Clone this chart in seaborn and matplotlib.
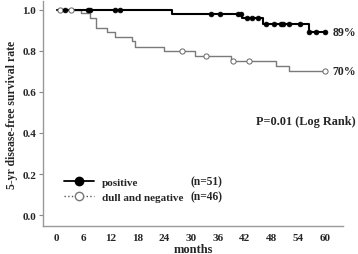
import numpy as np
import pandas as pd
import matplotlib
matplotlib.use("Agg")
import matplotlib.pyplot as plt
import seaborn as sns
from matplotlib.lines import Line2D

# ---- data ----
pos_times = [0, 25.8, 41.5, 46.2, 56.3, 60]
pos_surv = [1.0, 0.98, 0.959, 0.93, 0.894, 0.894]
pos_cens = [1.8, 7.0, 7.4, 13.0, 14.2, 34.5, 36.5, 40.5, 41.2, 42.6, 43.7, 45.0,
            46.7, 48.6, 50.1, 50.6, 52.0, 54.4, 56.5, 58.0, 60.0]

neg_times = [0, 5.4, 7.4, 8.7, 11.3, 13.0, 16.8, 17.5, 23.9, 30.8, 39.0, 49.0, 52.0, 60]
neg_surv = [1.0, 0.985, 0.96, 0.91, 0.89, 0.867, 0.847, 0.82, 0.798, 0.774, 0.751, 0.726, 0.70, 0.70]
neg_cens = [0.7, 3.1, 27.9, 33.3, 39.3, 43.0, 60.0]

group_labels = ["positive", "dull and negative"]
group_n = ["(n=51)", "(n=46)"]
end_labels = ["89%", "70%"]
p_text = "P=0.01 (Log Rank)"
x_ticks = [0, 6, 12, 18, 24, 30, 36, 42, 48, 54, 60]
y_ticks = [0.0, 0.2, 0.4, 0.6, 0.8, 1.0]


def step_value(times, surv, t):
    idx = np.searchsorted(times, t, side="right") - 1
    return surv[idx]


sns.set_style("white")
plt.rcParams["font.family"] = ["Liberation Serif", "DejaVu Serif"]
plt.rcParams["font.weight"] = "bold"

fig = plt.figure(figsize=(3.58, 2.55), dpi=100)
ax = fig.add_axes([0.12, 0.11, 0.838, 0.882])

pos_df = pd.DataFrame({"t": pos_times, "s": pos_surv})
neg_df = pd.DataFrame({"t": neg_times, "s": neg_surv})
sns.lineplot(data=neg_df, x="t", y="s", drawstyle="steps-post", color="#7a7a7a",
             lw=1.0, ax=ax, estimator=None, sort=False)
sns.lineplot(data=pos_df, x="t", y="s", drawstyle="steps-post", color="black",
             lw=1.5, ax=ax, estimator=None, sort=False)

pos_c = pd.DataFrame({"t": pos_cens,
                      "s": [step_value(pos_times, pos_surv, t) for t in pos_cens]})
neg_c = pd.DataFrame({"t": neg_cens,
                      "s": [step_value(neg_times, neg_surv, t) for t in neg_cens]})
sns.scatterplot(data=neg_c, x="t", y="s", marker="o", s=14, facecolor="white",
                edgecolor="#666666", linewidth=0.7, ax=ax, zorder=4)
sns.scatterplot(data=pos_c, x="t", y="s", marker="o", s=12, color="black",
                edgecolor="black", linewidth=0.5, ax=ax, zorder=5)

ax.set_xlim(-3.1, 64.0)
ax.set_ylim(-0.053, 1.043)
ax.set_xticks(x_ticks)
ax.set_yticks(y_ticks)
ax.set_xticklabels([str(v) for v in x_ticks], fontsize=8, fontweight="bold")
ax.set_yticklabels([f"{v:.1f}" for v in y_ticks], fontsize=8, fontweight="bold")
ax.tick_params(axis="y", length=3, width=0.8, color="#888888", pad=2, direction="out", left=True)
ax.tick_params(axis="x", length=0, pad=5)
for side in ["top", "right"]:
    ax.spines[side].set_visible(False)
for side in ["left", "bottom"]:
    ax.spines[side].set_color("#999999")
    ax.spines[side].set_linewidth(1.0)

ax.set_xlabel("months", fontsize=9, fontweight="bold", labelpad=1)
ax.set_ylabel("5-yr disease-free survival rate", fontsize=8.5, fontweight="bold", labelpad=3)

ax.text(61.6, pos_surv[-1], end_labels[0], fontsize=8.5, fontweight="bold", va="center", ha="left")
ax.text(61.6, neg_surv[-1], end_labels[1], fontsize=8.5, fontweight="bold", va="center", ha="left")
ax.text(44.5, 0.46, p_text, fontsize=8.8, fontweight="bold", va="center", ha="left")

handles = [
    Line2D([0], [0], color="black", lw=1.3, marker="o", markersize=6,
           markerfacecolor="black", markeredgecolor="black"),
    Line2D([0], [0], color="#555555", lw=1.0, ls=":", marker="o", markersize=6,
           markerfacecolor="white", markeredgecolor="#777777"),
]
leg = ax.legend(handles, group_labels, loc="upper left", bbox_to_anchor=(0.045, 0.25),
                frameon=False, fontsize=8, handlelength=2.7, handletextpad=0.7,
                labelspacing=0.4, borderpad=0.2)
for t in leg.get_texts():
    t.set_fontweight("bold")

ax.text(29.8, 0.165, group_n[0], fontsize=8.3, fontweight="bold", va="center", ha="left")
ax.text(29.8, 0.09, group_n[1], fontsize=8.3, fontweight="bold", va="center", ha="left")

fig.savefig("out.png", dpi=100)
